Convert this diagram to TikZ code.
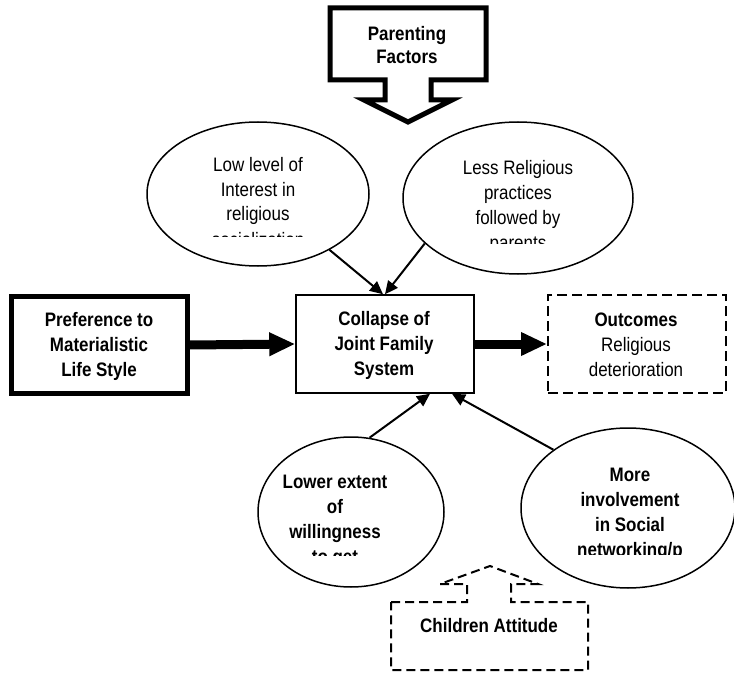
\documentclass[tikz,border=0pt]{standalone}
\usepackage{fontspec}
\setmainfont{Liberation Sans}[FakeStretch=0.87]
\usetikzlibrary{positioning,arrows.meta,calc,shapes.geometric}
\tikzset{
  every node/.style = {font=\fontsize{19.5}{25}\selectfont, align=center,
                       inner sep=0pt},
  factorbox/.style  = {rectangle, draw, line width=5pt,
                       minimum width=176pt, minimum height=97pt},
  corebox/.style    = {rectangle, draw, line width=1.5pt,
                       minimum width=178pt, minimum height=98pt},
  outbox/.style     = {rectangle, draw, line width=2pt,
                       dash pattern=on 10pt off 5pt,
                       minimum width=178pt, minimum height=98pt},
  bubble/.style     = {ellipse, draw, line width=1.5pt, inner sep=0pt},
  boldtext/.style   = {anchor=base,
                       font=\fontsize{19.5}{25}\selectfont\bfseries},
  plaintext/.style  = {anchor=base},
  push/.style       = {-{Triangle[length=26pt,width=22pt]}, line width=9pt},
  feed/.style       = {-{Triangle[length=13pt,width=12pt]}, line width=2pt},
  callout/.style    = {line width=5pt, line join=miter},
  dashcallout/.style= {line width=2pt, dash pattern=on 9pt off 5pt},
}

\begin{document}
\begin{tikzpicture}[x=1pt, y=-1pt]
\useasboundingbox (0,0) rectangle (734,674);

% =========================================================================
% Callouts (parenting on top, children attitude at the bottom)
% =========================================================================
\draw[callout]
   (330,8) -- (486,8) -- (486,80) -- (431,80) -- (431,100) -- (452,100)
   -- (408,122) -- (364,100) -- (385,100) -- (385,80) -- (330,80) -- cycle;
\node[boldtext, font=\fontsize{19.5}{23}\selectfont\bfseries]
  (parenting) at (407,64) {Parenting\\Factors};

\draw[dashcallout]
   (391,602) -- (467,602) -- (467,584) -- (440,584) -- (490,566)
   -- (538,584) -- (511,584) -- (511,602) -- (588,602) -- (588,670)
   -- (391,670) -- cycle;
\node[boldtext] (children) at (489,632) {Children Attitude};

% =========================================================================
% Boxes  (base anchor = baseline of the last line)
% =========================================================================
\node[factorbox] (pref)     at (99,345)  {};
\node[corebox]   (collapse) at (385,344) {};
\node[outbox]    (outcomes) at (637,344) {};

\node[boldtext] (preftext)     at (99,376)  {Preference to\\Materialistic\\Life Style};
\node[boldtext] (collapsetext) at (384,375) {Collapse of\\Joint Family\\System};
\node[boldtext] (outtitle)     at (636,326) {Outcomes};
\node[plaintext] (outtext)     at (636,376) {Religious\\deterioration};

% =========================================================================
% Ellipses (text is cut off at the bottom, as in the source)
% =========================================================================
\node[bubble, minimum width=222pt, minimum height=144pt] (interest) at (258,194) {};
\node[bubble, minimum width=230pt, minimum height=152pt] (practice) at (518,198) {};
\node[bubble, minimum width=186pt, minimum height=150pt] (willing)  at (351,512) {};
\node[bubble, minimum width=214pt, minimum height=160pt] (social)   at (628,508) {};

\begin{scope}
  \clip (150,140) rectangle (370,236);
  \node[plaintext] (interesttext) at (258,246)
    {Low level of\\Interest in\\religious\\socialization};
\end{scope}
\begin{scope}
  \clip (410,140) rectangle (630,243);
  \node[plaintext] (practicetext) at (518,249)
    {Less Religious\\practices\\followed by\\parents};
\end{scope}
\begin{scope}
  \clip (262,450) rectangle (445,555);
  \node[boldtext] (willingtext) at (335,563)
    {Lower extent\\of\\willingness\\to get};
\end{scope}
\begin{scope}
  \clip (524,450) rectangle (734,554);
  \node[boldtext] (socialtext) at (630,556)
    {More\\involvement\\in Social\\networking/p};
\end{scope}

% =========================================================================
% Connectors
% =========================================================================
\draw[push] (pref.east) -- (collapse.west);
\draw[push] (collapse.east) -- (outcomes.west);

\draw[feed] (interest.-38)  -- ($(collapse.north)+(-2,0)$);
\draw[feed] (practice.-154) -- ($(collapse.north)+(0,0)$);
\draw[feed] (willing.76)    -- ($(collapse.south)+(45,0)$);
\draw[feed] (social.142)    -- ($(collapse.south)+(67,0)$);

\end{tikzpicture}
\end{document}
